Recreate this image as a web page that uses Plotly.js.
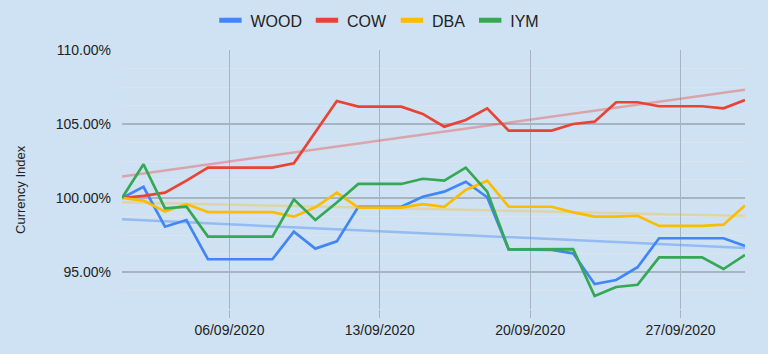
<!DOCTYPE html>
<html>
<head>
<meta charset="utf-8">
<script src="https://cdn.plot.ly/plotly-3.0.1.min.js"></script>
<style>
html,body{margin:0;padding:0;background:#ffffff;}
#chart{width:768px;height:354px;}
</style>
</head>
<body>
<div id="chart"></div>
<script>
const dates = ['2020-09-01','2020-09-02','2020-09-03','2020-09-04','2020-09-05','2020-09-06','2020-09-07','2020-09-08','2020-09-09','2020-09-10',
  '2020-09-11','2020-09-12','2020-09-13','2020-09-14','2020-09-15','2020-09-16','2020-09-17','2020-09-18','2020-09-19','2020-09-20',
  '2020-09-21','2020-09-22','2020-09-23','2020-09-24','2020-09-25','2020-09-26','2020-09-27','2020-09-28','2020-09-29','2020-09-30'];
const wood = [100, 100.76, 98.06, 98.51, 95.86, 95.86, 95.86, 95.86, 97.72, 96.58, 97.07, 99.41, 99.41, 99.41, 100.09, 100.43, 101.1, 100.05, 96.53, 96.5, 96.5, 96.26, 94.19, 94.46, 95.32, 97.28, 97.28, 97.28, 97.28, 96.76];
const cow = [100, 100.14, 100.36, 101.17, 102.05, 102.05, 102.05, 102.05, 102.34, 104.45, 106.55, 106.17, 106.17, 106.17, 105.68, 104.82, 105.27, 106.06, 104.55, 104.55, 104.55, 105.0, 105.16, 106.47, 106.47, 106.2, 106.2, 106.2, 106.06, 106.62];
const dba = [100, 99.82, 99.08, 99.59, 99.05, 99.05, 99.05, 99.05, 98.74, 99.37, 100.36, 99.35, 99.35, 99.35, 99.59, 99.41, 100.54, 101.17, 99.41, 99.41, 99.41, 99.03, 98.74, 98.74, 98.8, 98.11, 98.11, 98.11, 98.2, 99.5];
const iym = [100, 102.28, 99.3, 99.41, 97.39, 97.39, 97.39, 97.39, 99.91, 98.51, 99.7, 100.95, 100.95, 100.95, 101.3, 101.17, 102.05, 100.43, 96.53, 96.53, 96.53, 96.55, 93.38, 93.99, 94.14, 95.99, 95.99, 95.99, 95.2, 96.15];
const seriesNames = ['WOOD','COW','DBA','IYM'];
const colors = ['#4285F4','#EA4335','#FBBC04','#34A853'];
const trendColors = ['rgba(66,133,244,0.42)','rgba(234,67,53,0.38)','rgba(251,188,4,0.32)'];
const xTickVals = ['2020-09-06','2020-09-13','2020-09-20','2020-09-27'];
const xTickText = ['06/09/2020','13/09/2020','20/09/2020','27/09/2020'];
const yTickVals = [95,100,105,110];
const yTickText = ['95.00%','100.00%','105.00%','110.00%'];

const allSeries = [wood, cow, dba, iym];

function trend(vals){
  const n = vals.length;
  let sx=0, sy=0, sxx=0, sxy=0;
  for(let i=0;i<n;i++){sx+=i;sy+=vals[i];sxx+=i*i;sxy+=i*vals[i];}
  const b=(n*sxy-sx*sy)/(n*sxx-sx*sx);
  const a=(sy-b*sx)/n;
  return [a, a+b*(n-1)];
}

const traces = [];
[0,1,2].forEach(k=>{
  traces.push({
    x:[dates[0], dates[dates.length-1]], y:trend(allSeries[k]),
    type:'scatter', mode:'lines', showlegend:false, hoverinfo:'skip',
    line:{color:trendColors[k], width:2.5}
  });
});
allSeries.forEach((s,k)=>{
  traces.push({
    x:dates, y:s, type:'scatter', mode:'lines', name:seriesNames[k], showlegend:false,
    line:{color:colors[k], width:2.7}
  });
});
allSeries.forEach((s,k)=>{
  traces.push({
    x:[null], y:[null], type:'scatter', mode:'markers', name:seriesNames[k],
    marker:{symbol:'line-ew', size:16, color:colors[k], line:{color:colors[k], width:6}}
  });
});

const bg = '#cfe2f3';
const layout = {
  width:768, height:354,
  paper_bgcolor:bg, plot_bgcolor:bg,
  margin:{l:122, r:23, t:49.5, b:45, autoexpand:false},
  font:{family:'Liberation Sans, Arial, sans-serif', size:14, color:'#222222'},
  showlegend:true,
  legend:{orientation:'h', x:0.41, xanchor:'center', y:1.114, yanchor:'middle',
    font:{size:16, color:'#222222'}, bgcolor:'rgba(0,0,0,0)', itemwidth:30},
  xaxis:{
    type:'date', range:[dates[0], dates[dates.length-1]], automargin:false,
    tickmode:'array', tickvals:xTickVals, ticktext:xTickText,
    showgrid:true, gridcolor:'#a7b5c3', gridwidth:1.2,
    ticks:'outside', ticklen:8, tickcolor:'#a7b5c3', tickwidth:1.2,
    showline:false, zeroline:false, tickfont:{size:14, color:'#222222'}
  },
  yaxis:{
    range:[92.5,110], automargin:false, tickmode:'array', tickvals:yTickVals, ticktext:yTickText,
    showgrid:true, gridcolor:'#a7b5c3', gridwidth:1.2,
    minor:{tickmode:'linear', tick0:92.5, dtick:1.25, showgrid:true, gridcolor:'#dbe4ee', gridwidth:1},
    zeroline:false, showline:false, ticks:'', ticklabelstandoff:10,
    tickfont:{size:14, color:'#222222'}
  },
  annotations:[{
    text:'Currency Index', xref:'paper', yref:'paper', x:-0.162, y:0.46,
    xanchor:'center', yanchor:'middle', textangle:-90, showarrow:false,
    font:{size:13, color:'#222222'}
  }]
};
Plotly.newPlot('chart', traces, layout, {displayModeBar:false, staticPlot:true});
</script>
</body>
</html>
